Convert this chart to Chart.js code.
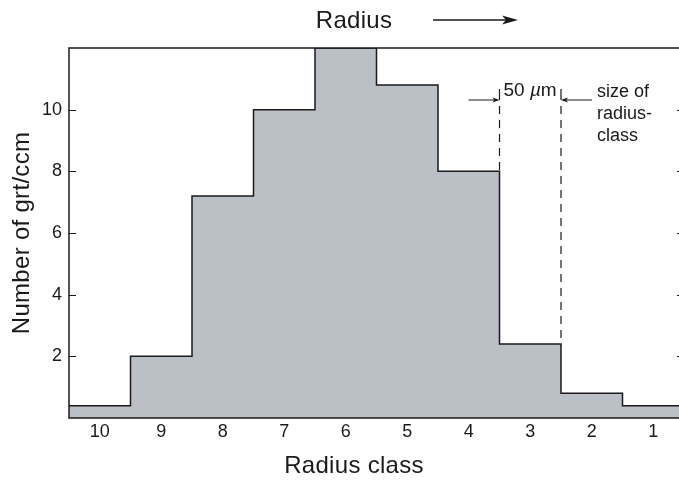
<!DOCTYPE html>
<html>
<head>
<meta charset="utf-8">
<script src="https://cdn.jsdelivr.net/npm/chart.js@4/dist/chart.umd.min.js"></script>
<style>
  html, body { margin: 0; padding: 0; background: #fff; overflow: hidden; width: 679px; height: 481px; }
  canvas { display: block; }
</style>
</head>
<body>
<canvas id="c" width="690" height="481"></canvas>
<script>
// Grain-size distribution: garnet grains per ccm in each radius class
const radiusClasses = [10, 9, 8, 7, 6, 5, 4, 3, 2, 1];
const grainCounts   = [0.4, 2, 7.2, 10, 12, 10.8, 8, 2.4, 0.8, 0.4];
const yTickValues   = [2, 4, 6, 8, 10];
const markedClass   = 3;          // class whose width is annotated

const topTitle    = 'Radius';
const xTitle      = 'Radius class';
const yTitle      = 'Number of grt/ccm';
const widthNumber = '50 ';
const widthMu     = 'µ';
const widthUnit   = 'm';
const sizeLines   = ['size of', 'radius-', 'class'];

const FONT = '"Liberation Sans", Arial, Helvetica, sans-serif';
const INK = '#1a1a1a';

// corner points of the histogram outline (each class spans value ± 0.5)
const stepPoints = [];
radiusClasses.forEach((c, i) => {
  stepPoints.push({ x: c + 0.5, y: grainCounts[i] });
  stepPoints.push({ x: c - 0.5, y: grainCounts[i] });
});

function arrowHead(ctx, tipX, tipY, dir, len, half) {
  ctx.beginPath();
  ctx.moveTo(tipX, tipY);
  ctx.lineTo(tipX - dir * len, tipY - half);
  ctx.lineTo(tipX - dir * len * 0.75, tipY);
  ctx.lineTo(tipX - dir * len, tipY + half);
  ctx.closePath();
  ctx.fill();
}

const decorations = {
  id: 'decorations',
  afterDatasetsDraw(chart) {
    const { ctx, chartArea: a, scales: { x, y } } = chart;
    ctx.save();
    ctx.strokeStyle = INK;
    ctx.fillStyle = INK;

    // frame
    ctx.lineWidth = 1.5;
    ctx.strokeRect(a.left, a.top, a.right - a.left, a.bottom - a.top);

    // inward tick marks on both vertical axes
    ctx.lineWidth = 1.2;
    yTickValues.forEach(v => {
      const py = Math.round(y.getPixelForValue(v)) + 0.5;
      ctx.beginPath();
      ctx.moveTo(a.left, py); ctx.lineTo(a.left + 7, py);
      ctx.moveTo(a.right, py); ctx.lineTo(a.right - 7, py);
      ctx.stroke();
    });

    // class-width annotation
    const idx = radiusClasses.indexOf(markedClass);
    const xl = x.getPixelForValue(markedClass + 0.5);
    const xr = x.getPixelForValue(markedClass - 0.5);
    const yl = y.getPixelForValue(Math.max(grainCounts[idx], grainCounts[idx - 1]));
    const yr = y.getPixelForValue(Math.max(grainCounts[idx], grainCounts[idx + 1]));
    const arrowY = 100;

    ctx.lineWidth = 1.2;
    ctx.setLineDash([8, 6]);
    ctx.beginPath();
    ctx.moveTo(xl, 106); ctx.lineTo(xl, yl);
    ctx.moveTo(xr, 106); ctx.lineTo(xr, yr);
    ctx.stroke();
    ctx.setLineDash([]);

    ctx.beginPath();
    ctx.moveTo(xl - 31, arrowY); ctx.lineTo(xl - 2, arrowY);
    ctx.moveTo(xr + 31, arrowY); ctx.lineTo(xr + 2, arrowY);
    ctx.moveTo(xl, 89); ctx.lineTo(xl, arrowY);
    ctx.moveTo(xr, 89); ctx.lineTo(xr, arrowY);
    ctx.stroke();
    arrowHead(ctx, xl, arrowY, 1, 7, 2.6);
    arrowHead(ctx, xr, arrowY, -1, 7, 2.6);

    ctx.textBaseline = 'alphabetic';
    ctx.textAlign = 'left';
    let tx = xl + 4;
    ctx.font = '19px ' + FONT;
    ctx.fillText(widthNumber, tx, 96);
    tx += ctx.measureText(widthNumber).width;
    ctx.font = 'italic 19px ' + FONT;
    ctx.fillText(widthMu, tx, 96);
    tx += ctx.measureText(widthMu).width;
    ctx.font = '19px ' + FONT;
    ctx.fillText(widthUnit, tx, 96);

    ctx.font = '18px ' + FONT;
    sizeLines.forEach((s, i) => ctx.fillText(s, xr + 36, 97 + i * 22));

    // titles
    ctx.font = '24px ' + FONT;
    try { ctx.letterSpacing = '0.3px'; } catch (e) {}
    ctx.textAlign = 'center';
    ctx.textBaseline = 'middle';
    ctx.fillText(topTitle, 354, 21);
    ctx.fillText(xTitle, 354, 466);
    ctx.save();
    ctx.translate(22, (a.top + a.bottom) / 2);
    ctx.rotate(-Math.PI / 2);
    ctx.fillText(yTitle, 0, 0);
    ctx.restore();
    try { ctx.letterSpacing = '0px'; } catch (e) {}

    // direction arrow next to the top title
    ctx.lineWidth = 1.6;
    ctx.beginPath();
    ctx.moveTo(433, 20); ctx.lineTo(508, 20);
    ctx.stroke();
    arrowHead(ctx, 518, 20, 1, 16, 4.5);

    ctx.restore();
  }
};

new Chart(document.getElementById('c'), {
  type: 'line',
  data: {
    datasets: [{
      data: stepPoints,
      borderColor: INK,
      borderWidth: 1.5,
      backgroundColor: '#bbbfc6',
      fill: 'origin',
      pointRadius: 0,
      tension: 0,
      borderJoinStyle: 'miter'
    }]
  },
  options: {
    responsive: false,
    animation: false,
    devicePixelRatio: 1,
    layout: { padding: { top: 48, right: 6, left: 0, bottom: 0 } },
    plugins: { legend: { display: false }, tooltip: { enabled: false } },
    scales: {
      x: {
        type: 'linear',
        reverse: true,
        min: 0.5,
        max: 10.5,
        grid: { display: false, drawTicks: false },
        border: { display: false },
        afterBuildTicks: s => { s.ticks = radiusClasses.map(v => ({ value: v })); },
        afterFit: s => { s.height = 63; },
        ticks: { color: INK, font: { family: FONT, size: 18 }, padding: 3, autoSkip: false, maxRotation: 0 }
      },
      y: {
        min: 0,
        max: 12,
        grid: { display: false, drawTicks: false },
        border: { display: false },
        afterBuildTicks: s => { s.ticks = yTickValues.map(v => ({ value: v })); },
        afterFit: s => { s.width = 69; },
        ticks: { color: INK, font: { family: FONT, size: 18 }, padding: 7 }
      }
    }
  },
  plugins: [decorations]
});
</script>
</body>
</html>
